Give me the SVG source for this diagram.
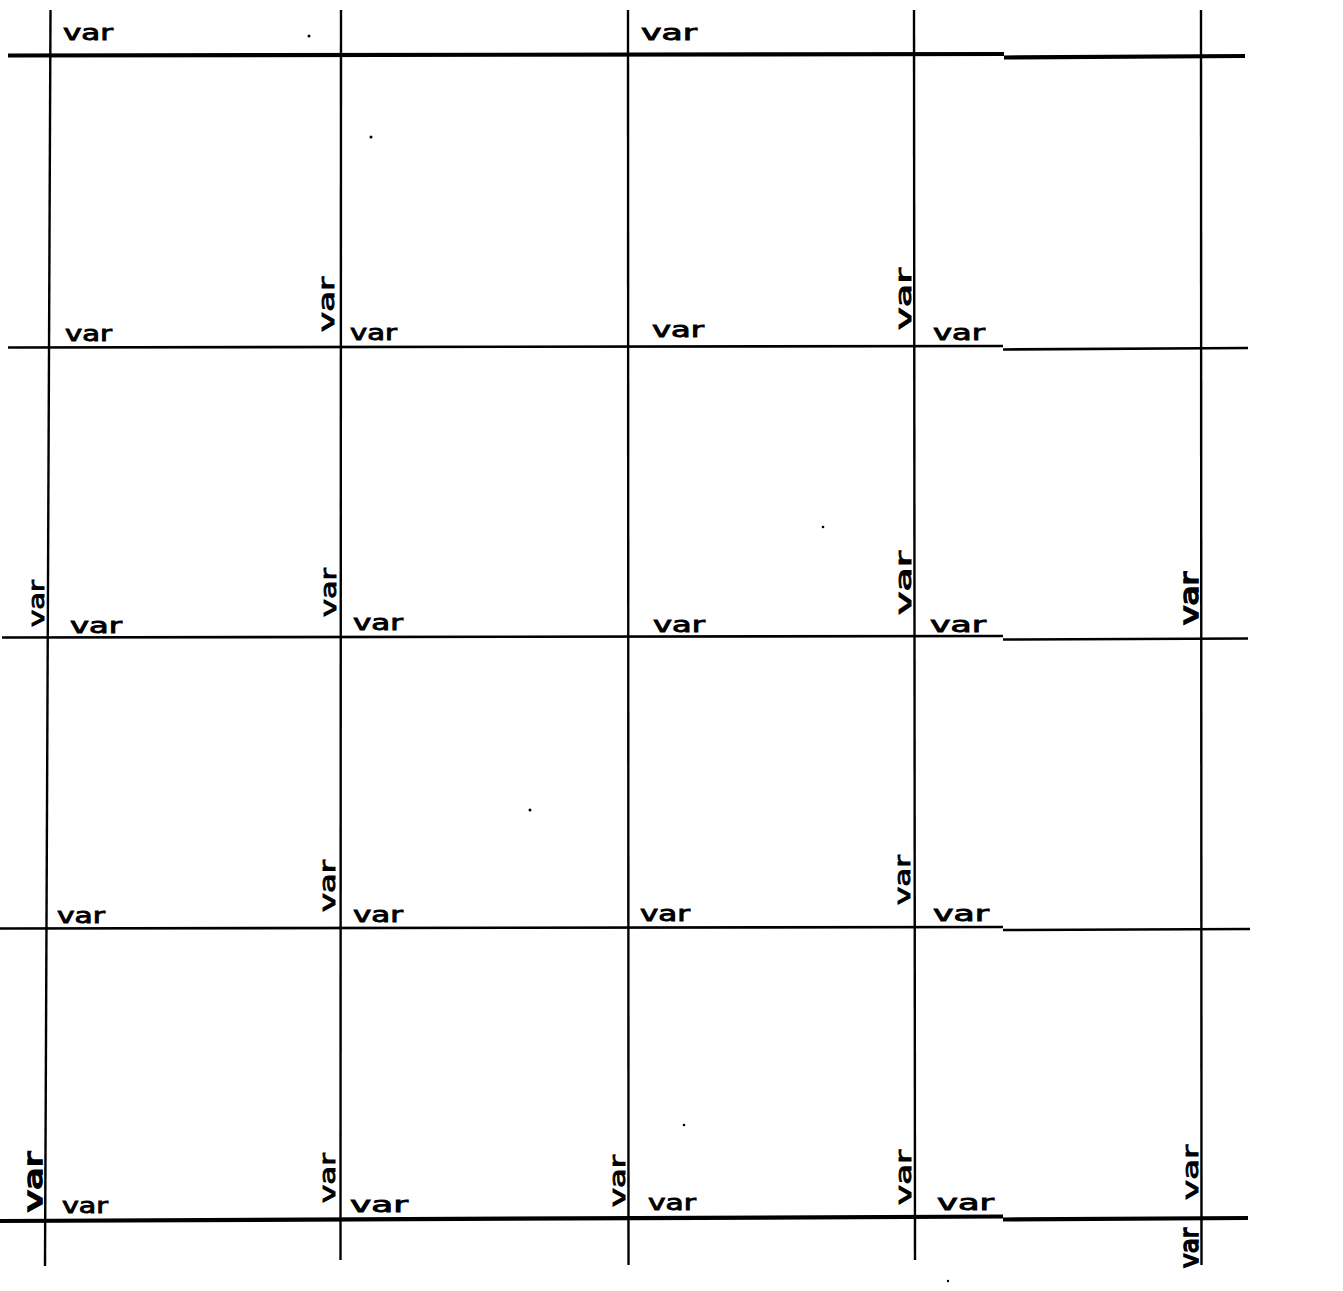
<svg xmlns="http://www.w3.org/2000/svg" width="1343" height="1291" viewBox="0 0 1343 1291">
<style>
.h{stroke:#000;stroke-width:2.6;fill:none;stroke-linecap:butt}
.hb{stroke:#000;stroke-width:4.2;fill:none}
.v{stroke:#000;stroke-width:2.4;fill:none}
.t{font-family:"DejaVu Sans","Liberation Sans",sans-serif;font-size:22px;fill:#000;stroke:#000;stroke-width:0.9}
.tb{font-family:"DejaVu Sans","Liberation Sans",sans-serif;font-size:24px;fill:#000;stroke:#000;stroke-width:1.6}
.d{fill:#000}
</style>
<rect width="1343" height="1291" fill="#fff"/>
<g id="connectors">
<path class="hb" d="M8 55.5 L1004 54"/>
<path class="hb" d="M1004 57.5 L1245 56"/>
<path class="h" d="M8 347.5 L1003 346"/>
<path class="h" d="M1003 349.5 L1248 348"/>
<path class="h" d="M2 637.5 L1003 636"/>
<path class="h" d="M1003 639.5 L1248 638.5"/>
<path class="h" d="M0 928.5 L1003 927"/>
<path class="h" d="M1003 930 L1250 929"/>
<path class="hb" d="M0 1221 L1003 1216.5"/>
<path class="hb" d="M1003 1219.5 L1248 1218"/>
<path class="v" d="M50.5 10 L45 1266"/>
<path class="v" d="M341 10 L340.5 1260"/>
<path class="v" d="M628 10 L628.5 1265"/>
<path class="v" d="M914 10 L915 1260"/>
<path class="v" d="M1201 10 L1201.5 1265"/>
</g>
<g id="labels-row0">
<text class="t" x="63" y="40" textLength="50" lengthAdjust="spacingAndGlyphs">var</text>
<text class="t" x="641" y="40" textLength="56" lengthAdjust="spacingAndGlyphs">var</text>
</g>
<g id="labels-row1">
<text class="t" x="65" y="341" textLength="47" lengthAdjust="spacingAndGlyphs">var</text>
<text class="t" x="350" y="340" textLength="47" lengthAdjust="spacingAndGlyphs">var</text>
<text class="t" x="652" y="337" textLength="52" lengthAdjust="spacingAndGlyphs">var</text>
<text class="t" x="933" y="340" textLength="52" lengthAdjust="spacingAndGlyphs">var</text>
<text class="t" transform="translate(334,332) rotate(-90)" textLength="55" lengthAdjust="spacingAndGlyphs">var</text>
<text class="t" transform="translate(911,330) rotate(-90)" textLength="62" lengthAdjust="spacingAndGlyphs">var</text>
</g>
<g id="labels-row2">
<text class="t" x="70" y="633" textLength="52" lengthAdjust="spacingAndGlyphs">var</text>
<text class="t" x="353" y="630" textLength="50" lengthAdjust="spacingAndGlyphs">var</text>
<text class="t" x="653" y="632" textLength="52" lengthAdjust="spacingAndGlyphs">var</text>
<text class="t" x="930" y="632" textLength="56" lengthAdjust="spacingAndGlyphs">var</text>
<text class="t" transform="translate(44,627) rotate(-90)" textLength="47" lengthAdjust="spacingAndGlyphs">var</text>
<text class="t" transform="translate(336,617) rotate(-90)" textLength="49" lengthAdjust="spacingAndGlyphs">var</text>
<text class="t" transform="translate(911,615) rotate(-90)" textLength="64" lengthAdjust="spacingAndGlyphs">var</text>
<text class="tb" transform="translate(1198,625) rotate(-90)" textLength="53" lengthAdjust="spacingAndGlyphs">var</text>
</g>
<g id="labels-row3">
<text class="t" x="57" y="923" textLength="48" lengthAdjust="spacingAndGlyphs">var</text>
<text class="t" x="353" y="922" textLength="50" lengthAdjust="spacingAndGlyphs">var</text>
<text class="t" x="640" y="921" textLength="50" lengthAdjust="spacingAndGlyphs">var</text>
<text class="t" x="933" y="921" textLength="56" lengthAdjust="spacingAndGlyphs">var</text>
<text class="t" transform="translate(335,912) rotate(-90)" textLength="52" lengthAdjust="spacingAndGlyphs">var</text>
<text class="t" transform="translate(910,905) rotate(-90)" textLength="50" lengthAdjust="spacingAndGlyphs">var</text>
</g>
<g id="labels-row4">
<text class="t" x="62" y="1213" textLength="46" lengthAdjust="spacingAndGlyphs">var</text>
<text class="t" x="350" y="1212" textLength="58" lengthAdjust="spacingAndGlyphs">var</text>
<text class="t" x="648" y="1210" textLength="48" lengthAdjust="spacingAndGlyphs">var</text>
<text class="t" x="937" y="1210" textLength="57" lengthAdjust="spacingAndGlyphs">var</text>
<text class="tb" transform="translate(42,1212) rotate(-90)" textLength="60" lengthAdjust="spacingAndGlyphs">var</text>
<text class="t" transform="translate(335,1203) rotate(-90)" textLength="50" lengthAdjust="spacingAndGlyphs">var</text>
<text class="t" transform="translate(625,1207) rotate(-90)" textLength="52" lengthAdjust="spacingAndGlyphs">var</text>
<text class="t" transform="translate(911,1205) rotate(-90)" textLength="55" lengthAdjust="spacingAndGlyphs">var</text>
<text class="t" transform="translate(1198,1200) rotate(-90)" textLength="55" lengthAdjust="spacingAndGlyphs">var</text>
<text class="tb" transform="translate(1198,1268) rotate(-90)" textLength="40" lengthAdjust="spacingAndGlyphs">var</text>
</g>
<g id="specks">
<circle class="d" cx="309" cy="36" r="1.5"/>
<circle class="d" cx="371" cy="137" r="1.5"/>
<circle class="d" cx="823" cy="527" r="1.3"/>
<circle class="d" cx="530" cy="810" r="1.5"/>
<circle class="d" cx="684" cy="1125" r="1.3"/>
<circle class="d" cx="948" cy="1281" r="1.2"/>
</g>
</svg>
